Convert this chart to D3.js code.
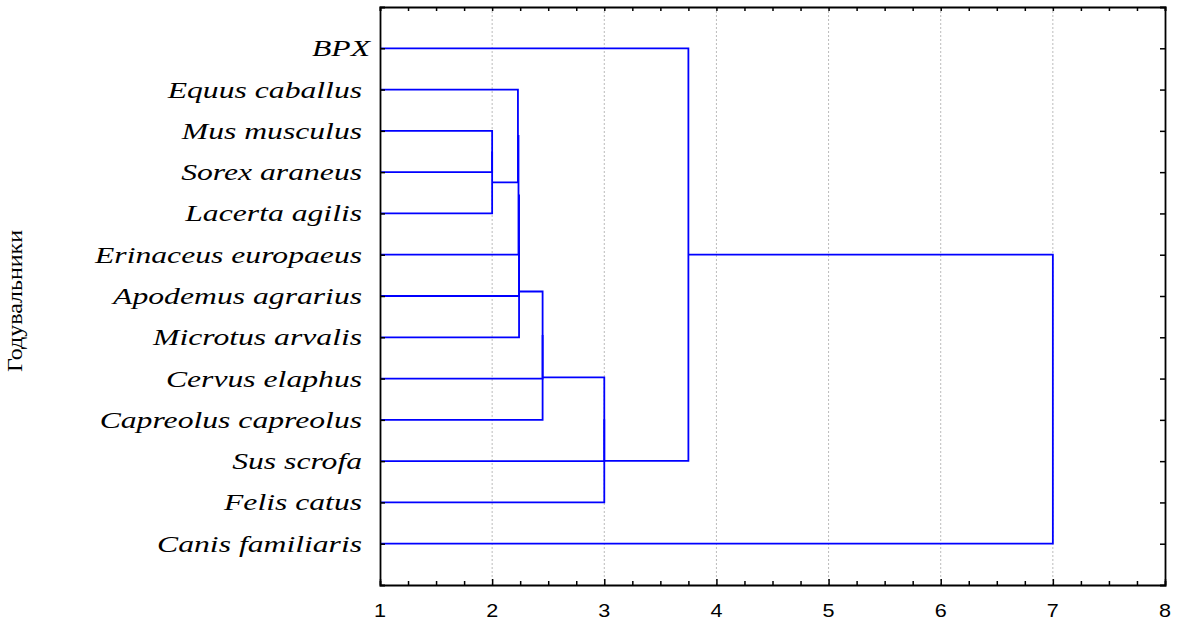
<!DOCTYPE html>
<head>
<meta charset="utf-8">
<title>Tree diagram</title>
<script src="https://cdn.jsdelivr.net/npm/d3@7"></script>
<style>
  body { margin: 0; background: #fff; }
  .leaf { font-family: "Liberation Serif", "DejaVu Serif", serif; font-style: italic; font-size: 24px; white-space: pre; }
  .tick-num { font-family: "Liberation Sans", Arial, sans-serif; font-size: 18px; }
</style>
</head>
<body>
<script>
// leaves of the tree, top to bottom
const leaves = ["BPX", "Equus caballus ", "Mus musculus ", "Sorex araneus ", "Lacerta agilis ",
  "Erinaceus europaeus ", "Apodemus agrarius ", "Microtus arvalis ", "Cervus elaphus ",
  "Capreolus capreolus ", "Sus scrofa ", "Felis catus ", "Canis familiaris "];

// joins: [first node, second node, linkage distance]; node ids >= leaves.length are earlier joins
const joins = [
  [2, 3, 2.0],
  [13, 4, 2.0],
  [1, 14, 2.23],
  [15, 5, 2.235],
  [16, 6, 2.24],
  [17, 7, 2.24],
  [18, 8, 2.45],
  [19, 9, 2.45],
  [20, 10, 3.0],
  [21, 11, 3.0],
  [0, 22, 3.75],
  [23, 12, 7.0]
];

const xTicks = [1, 2, 3, 4, 5, 6, 7, 8];
const yTitle = "Годувальники";

const W = 1183, H = 620;
const margin = {top: 7, right: 18, bottom: 35, left: 380};

const svg = d3.select("body").append("svg")
    .attr("width", W)
    .attr("height", H);

const x = d3.scaleLinear().domain([1, 8]).range([margin.left, W - margin.right]);
const y = d3.scalePoint().domain(d3.range(leaves.length)).range([margin.top, H - margin.bottom]).padding(1);

// grid
svg.append("g")
  .selectAll("line")
  .data(xTicks.slice(1, -1))
  .join("line")
    .attr("x1", d => x(d)).attr("x2", d => x(d))
    .attr("y1", margin.top).attr("y2", H - margin.bottom)
    .attr("stroke", "#bbb")
    .attr("stroke-width", 1)
    .attr("stroke-dasharray", "2,2");

// node positions
const pos = leaves.map((d, i) => ({x: 1, y: y(i)}));
const links = [];
joins.forEach(j => {
  const a = pos[j[0]], b = pos[j[1]];
  links.push({a: a, b: b, h: j[2]});
  pos.push({x: j[2], y: (a.y + b.y) / 2});
});

svg.append("g")
  .selectAll("path")
  .data(links)
  .join("path")
    .attr("d", d => "M" + x(d.a.x) + "," + d.a.y + "H" + x(d.h) + "V" + d.b.y + "H" + x(d.b.x))
    .attr("fill", "none")
    .attr("stroke", "#0000ff")
    .attr("stroke-width", 1.8);

// axes
const minor = d3.range(1, 8.01, 0.25);
const axBottom = svg.append("g")
    .attr("transform", "translate(0," + (H - margin.bottom) + ")")
    .call(d3.axisBottom(x).tickValues(minor).tickSize(-4).tickFormat(""));
axBottom.selectAll(".tick line").filter(d => Number.isInteger(d)).attr("y2", -6);

svg.append("g")
    .attr("transform", "translate(0," + margin.top + ")")
    .call(d3.axisTop(x).tickValues(minor).tickSize(-4).tickFormat(""));

svg.append("g")
    .attr("transform", "translate(" + margin.left + ",0)")
    .call(d3.axisLeft(y).tickSize(-5).tickFormat(""));

svg.append("g")
    .attr("transform", "translate(" + (W - margin.right) + ",0)")
    .call(d3.axisRight(y).tickSize(-5).tickFormat(""));

svg.selectAll(".domain").attr("stroke", "#000").attr("stroke-width", 1.8);
svg.selectAll(".tick line").attr("stroke", "#000").attr("stroke-width", 1.5);

// labels
svg.append("g")
  .selectAll("text")
  .data(leaves)
  .join("text")
    .attr("class", "leaf")
    .attr("text-anchor", "end")
    .attr("transform", (d, i) => "translate(370," + (y(i) + 8) + ") scale(1.32,1)")
    .text(d => d);

svg.append("g")
  .selectAll("text")
  .data(xTicks)
  .join("text")
    .attr("class", "tick-num")
    .attr("text-anchor", "middle")
    .attr("transform", d => "translate(" + x(d) + ",617) scale(1.2,1)")
    .text(d => d);

svg.append("text")
    .attr("transform", "translate(22,301) rotate(-90) scale(1.2,1)")
    .attr("text-anchor", "middle")
    .style("font-family", "'Liberation Serif', serif")
    .style("font-size", "20px")
    .text(yTitle);
</script>
</body>
